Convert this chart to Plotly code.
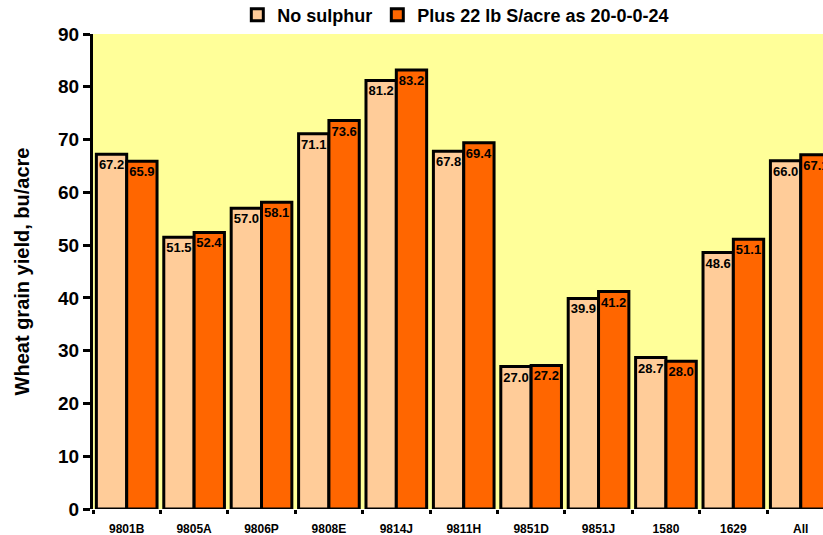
import plotly.graph_objects as go

categories = ["9801B", "9805A", "9806P", "9808E", "9814J", "9811H", "9851D", "9851J", "1580", "1629", "All"]
no_sulphur = [67.2, 51.5, 57.0, 71.1, 81.2, 67.8, 27.0, 39.9, 28.7, 48.6, 66.0]
plus_sulphur = [65.9, 52.4, 58.1, 73.6, 83.2, 69.4, 27.2, 41.2, 28.0, 51.1, 67.1]
series_names = ["No sulphur", "Plus 22 lb S/acre as 20-0-0-24"]
y_ticks = [0, 10, 20, 30, 40, 50, 60, 70, 80, 90]

FONT = "Liberation Sans, Arial, sans-serif"

fig = go.Figure()
for name, vals, color in [(series_names[0], no_sulphur, "#FFCC99"),
                          (series_names[1], plus_sulphur, "#FF6600")]:
    fig.add_trace(go.Bar(
        x=categories, y=vals, name=name,
        marker=dict(color=color, line=dict(color="black", width=3)),
        text=[f"{v:.1f}" for v in vals],
        textposition="inside", insidetextanchor="end",
        textangle=0,
        textfont=dict(family=FONT, size=13, color="black", weight="bold"),
        cliponaxis=True,
    ))

fig.update_layout(
    width=823, height=535,
    margin=dict(l=93, r=0, t=34, b=26, autoexpand=False),
    barmode="group", bargap=0.1, bargroupgap=0,
    plot_bgcolor="#FFFF99", paper_bgcolor="white",
    font=dict(family=FONT, color="black"),
    uniformtext=dict(mode="show", minsize=13),
    legend=dict(orientation="h", x=0.497, xanchor="center",
                yref="container", y=0.972, yanchor="middle",
                font=dict(family=FONT, size=18, color="black", weight="bold"),
                traceorder="normal", itemwidth=30),
    showlegend=True,
)
fig.update_xaxes(
    range=[-0.5, 10.33], automargin=False,
    showline=False, ticks="outside", tickson="boundaries", ticklen=4, tickwidth=3,
    tickcolor="black", ticklabelstandoff=11,
    tickfont=dict(family=FONT, size=12, color="black", weight="bold"),
    showgrid=False, zeroline=False,
)
fig.update_yaxes(
    range=[0, 90], tickvals=y_ticks, automargin=False,
    showline=True, linecolor="black", linewidth=3,
    ticks="outside", ticklen=7, tickwidth=3, tickcolor="black",
    tickfont=dict(family=FONT, size=19, color="black", weight="bold"),
    showgrid=False, zeroline=False,
    title=dict(text="Wheat grain yield, bu/acre",
               font=dict(family=FONT, size=20, color="black", weight="bold"),
               standoff=24),
)
fig.write_html("out.html",
               config={"displayModeBar": False},
               post_script="document.body.style.margin='0';document.body.style.padding='0';")
